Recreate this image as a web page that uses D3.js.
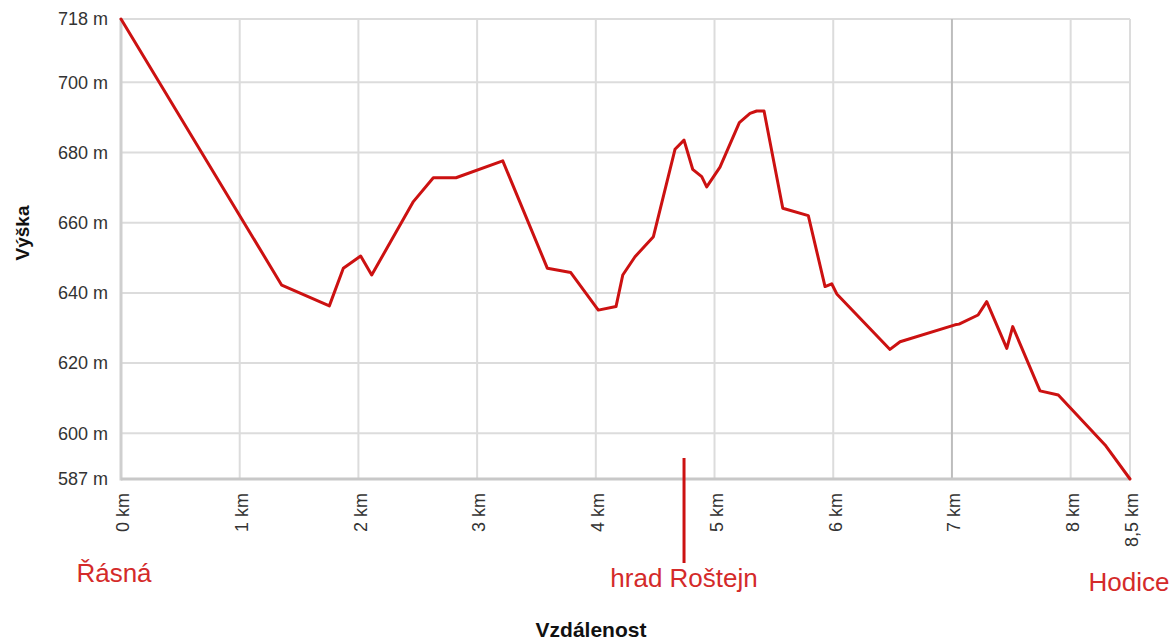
<!DOCTYPE html>
<html>
<head>
<meta charset="utf-8">
<script src="https://cdn.jsdelivr.net/npm/d3@7"></script>
<style>
html,body{margin:0;padding:0;background:#fff;}
svg{display:block;font-family:"Liberation Sans",Arial,sans-serif;}
</style>
</head>
<body>
<svg id="chart" width="1175" height="640"></svg>
<script>
// ---- data ----
const distances = [0, 1.354, 1.755, 1.873, 2.019, 2.112, 2.463, 2.631, 2.822, 3.216,
  3.592, 3.789, 4.021, 4.17, 4.227, 4.33, 4.485, 4.667, 4.743, 4.816,
  4.892, 4.934, 5.046, 5.209, 5.299, 5.355, 5.417, 5.575, 5.79, 5.931,
  5.987, 6.03, 6.478, 6.563, 7.026, 7.06, 7.22, 7.293, 7.462, 7.512,
  7.742, 7.896, 8.29, 8.5];
const elevations = [718, 642.2, 636.3, 647, 650.5, 645.1, 666, 672.8, 672.8, 677.6,
  647, 645.8, 635.1, 636.1, 645.1, 650.3, 656, 680.9, 683.5, 675.2,
  673.1, 670.2, 675.8, 688.5, 691.1, 691.8, 691.8, 664.1, 662, 641.8,
  642.6, 639.7, 623.9, 626.1, 630.9, 631.1, 633.7, 637.5, 624.2, 630.4,
  612.1, 610.9, 596.7, 587];
const xTicks = [0, 1, 2, 3, 4, 5, 6, 7, 8, 8.5];
const xTickLabels = ["0 km", "1 km", "2 km", "3 km", "4 km", "5 km", "6 km", "7 km", "8 km", "8,5 km"];
const yTicks = [587, 600, 620, 640, 660, 680, 700, 718];
const yTickLabels = ["587 m", "600 m", "620 m", "640 m", "660 m", "680 m", "700 m", "718 m"];
const placeNames = ["Řásná", "hrad Roštejn", "Hodice"];
const placeKm = [0, 4.743, 8.5];
const xTitle = "Vzdálenost";
const yTitle = "Výška";

(function () {
// ---- layout ----
const svg = d3.select("#chart");
const mLeft = 121, mRight = 1130, mTop = 19, mBottom = 479;
const x = d3.scaleLinear().domain([0, 8.5]).range([mLeft, mRight]);
const y = d3.scaleLinear().domain([587, 718]).range([mBottom, mTop]);
const red = "#cc1111";

// gridlines
const grid = svg.append("g");
grid.selectAll("line.h").data(yTicks).join("line")
  .attr("x1", mLeft).attr("x2", mRight)
  .attr("y1", d => y(d)).attr("y2", d => y(d))
  .attr("stroke", "#dcdcdc").attr("stroke-width", 2);
grid.selectAll("line.v").data(xTicks).join("line")
  .attr("x1", d => x(d)).attr("x2", d => x(d))
  .attr("y1", mTop).attr("y2", mBottom)
  .attr("stroke", d => d === 7 ? "#bdbdbd" : "#dcdcdc").attr("stroke-width", 2);

// axis borders
svg.append("line").attr("x1", mLeft).attr("x2", mLeft).attr("y1", mTop - 1).attr("y2", mBottom + 1.5)
  .attr("stroke", "#cfcfcf").attr("stroke-width", 3);
svg.append("line").attr("x1", mLeft).attr("x2", mRight).attr("y1", mBottom).attr("y2", mBottom)
  .attr("stroke", "#c8c8c8").attr("stroke-width", 3);

// y tick labels
svg.append("g").selectAll("text").data(yTicks).join("text")
  .attr("x", 108).attr("y", d => y(d)).attr("dy", "0.35em")
  .attr("text-anchor", "end").attr("font-size", 18).attr("fill", "#333")
  .text((d, i) => yTickLabels[i]);

// x tick labels (rotated)
svg.append("g").selectAll("text").data(xTicks).join("text")
  .attr("transform", d => `translate(${x(d) + 2},493) rotate(-90)`)
  .attr("dy", "0.35em").attr("text-anchor", "end")
  .attr("font-size", 18).attr("fill", "#333")
  .text((d, i) => xTickLabels[i]);

// profile line
const line = d3.line().x(d => x(d[0])).y(d => y(d[1]));
svg.append("path")
  .datum(distances.map((d, i) => [d, elevations[i]]))
  .attr("d", line).attr("fill", "none")
  .attr("stroke", red).attr("stroke-width", 3)
  .attr("stroke-linejoin", "round").attr("stroke-linecap", "round");

// place marker line (castle)
svg.append("line").attr("x1", x(placeKm[1])).attr("x2", x(placeKm[1]))
  .attr("y1", 458).attr("y2", 563).attr("stroke", red).attr("stroke-width", 3);

// place labels
const placeDx = [-7, 0, -1];
const placeY = [582, 587, 591];
svg.append("g").selectAll("text").data(placeKm).join("text")
  .attr("x", (d, i) => x(d) + placeDx[i]).attr("y", (d, i) => placeY[i])
  .attr("text-anchor", "middle").attr("font-size", 26).attr("fill", "#d42a2a")
  .text((d, i) => placeNames[i]);

// axis titles
svg.append("text").attr("x", 591).attr("y", 637).attr("text-anchor", "middle")
  .attr("font-size", 21).attr("font-weight", "bold").attr("fill", "#111").text(xTitle);
svg.append("text").attr("transform", "translate(29,233) rotate(-90)")
  .attr("text-anchor", "middle").attr("font-size", 19).attr("font-weight", "bold")
  .attr("fill", "#111").text(yTitle);
})();
</script>
</body>
</html>
